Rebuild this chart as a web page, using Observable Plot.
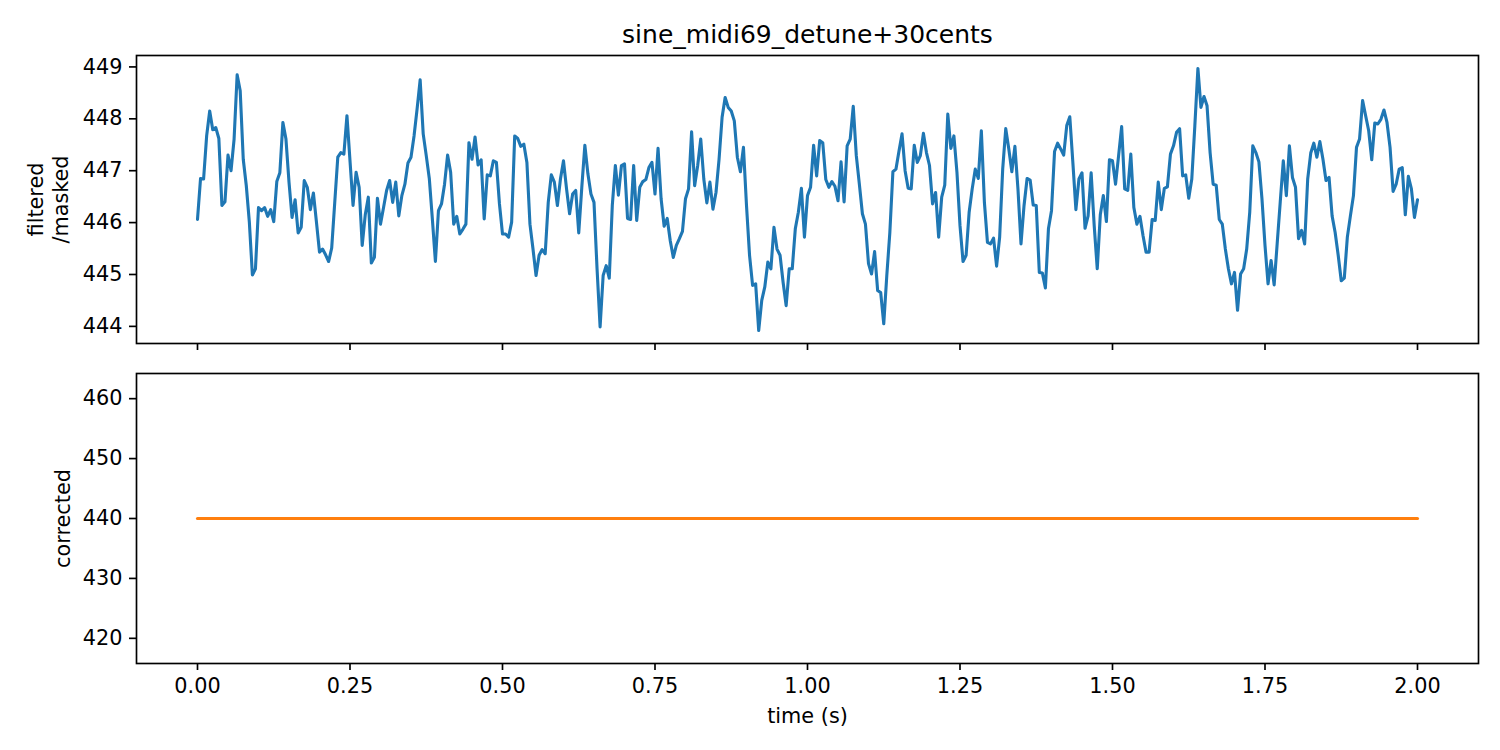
<!DOCTYPE html>
<html>
<head>
<meta charset="utf-8">
<script src="https://cdn.jsdelivr.net/npm/d3@7"></script>
<script src="https://cdn.jsdelivr.net/npm/@observablehq/plot@0.6"></script>
<style>
  body { margin: 0; background: #fff; }
  #chart { position: relative; width: 1500px; height: 750px; font-family: "DejaVu Sans", sans-serif; }
  #chart svg { position: absolute; left: 0; }
</style>
</head>
<body>
<div id="chart"></div>
<script>
const titleText = "sine_midi69_detune+30cents";
const xLabel = "time (s)";
const topYLabel = "filtered\n/masked";
const bottomYLabel = "corrected";
const xTicks = [0, 0.25, 0.5, 0.75, 1, 1.25, 1.5, 1.75, 2];
const topYTicks = [444, 445, 446, 447, 448, 449];
const bottomYTicks = [420, 430, 440, 450, 460];
const sampleStep = 0.005;

const filteredHz = [
  446.06, 446.85, 446.84, 447.67, 448.15, 447.79, 447.83, 447.62, 446.33, 446.40,
  447.30, 447.00, 447.61, 448.85, 448.54, 447.22, 446.71, 446.01, 444.99, 445.11,
  446.29, 446.23, 446.29, 446.12, 446.25, 446.02, 446.79, 446.96, 447.93, 447.61,
  446.78, 446.10, 446.44, 445.80, 445.91, 446.81, 446.68, 446.25, 446.57, 446.01,
  445.43, 445.49, 445.38, 445.25, 445.51, 446.39, 447.26, 447.35, 447.32, 448.06,
  447.19, 446.33, 446.97, 446.68, 445.56, 446.15, 446.49, 445.22, 445.33, 446.47,
  445.97, 446.29, 446.62, 446.81, 446.39, 446.78, 446.13, 446.52, 446.74, 447.15,
  447.26, 447.67, 448.19, 448.75, 447.71, 447.29, 446.85, 446.07, 445.25, 446.23,
  446.36, 446.74, 447.30, 446.97, 445.97, 446.12, 445.78, 445.87, 445.97, 447.54,
  447.22, 447.65, 447.11, 447.21, 446.07, 446.92, 446.90, 447.19, 447.16, 446.36,
  445.78, 445.78, 445.72, 446.01, 447.67, 447.62, 447.47, 447.51, 447.16, 445.97,
  445.49, 444.98, 445.37, 445.48, 445.40, 446.39, 446.92, 446.78, 446.33, 446.84,
  447.19, 446.65, 446.17, 446.55, 446.62, 445.80, 446.68, 447.49, 446.94, 446.55,
  446.39, 445.11, 443.99, 444.98, 445.17, 444.93, 446.33, 447.10, 446.53, 447.10,
  447.13, 446.08, 446.06, 447.10, 446.04, 446.68, 446.79, 446.83, 447.06, 447.16,
  446.55, 447.43, 446.46, 445.93, 446.08, 445.65, 445.33, 445.56, 445.69, 445.83,
  446.46, 446.65, 447.75, 446.71, 447.10, 447.61, 446.84, 446.38, 446.78, 446.26,
  446.58, 447.22, 448.03, 448.41, 448.22, 448.15, 447.96, 447.26, 446.98, 447.45,
  446.33, 445.37, 444.79, 444.82, 443.92, 444.50, 444.76, 445.24, 445.11, 445.91,
  445.49, 445.37, 444.85, 444.40, 445.11, 445.11, 445.88, 446.20, 446.66, 445.72,
  446.52, 446.68, 447.49, 446.90, 447.58, 447.54, 446.83, 446.68, 446.79, 446.70,
  446.42, 447.17, 446.40, 447.48, 447.61, 448.24, 447.29, 446.74, 446.17, 445.97,
  445.21, 445.01, 445.44, 444.69, 444.65, 444.05, 444.98, 445.81, 446.98, 447.03,
  447.38, 447.71, 447.00, 446.66, 446.65, 447.49, 447.16, 447.29, 447.72, 447.35,
  447.10, 446.36, 446.58, 445.72, 446.49, 446.72, 448.09, 447.43, 447.67, 446.97,
  445.94, 445.25, 445.37, 446.20, 446.65, 447.03, 446.85, 447.77, 446.39, 445.62,
  445.59, 445.70, 445.16, 445.72, 447.03, 447.81, 447.42, 446.98, 447.47, 446.65,
  445.59, 446.33, 446.85, 446.82, 446.34, 446.33, 445.04, 445.03, 444.74, 445.88,
  446.23, 447.37, 447.53, 447.42, 447.30, 447.87, 448.04, 447.16, 446.25, 446.84,
  446.96, 445.89, 446.13, 446.96, 445.94, 445.11, 446.15, 446.52, 446.02, 447.21,
  447.19, 446.74, 447.29, 447.85, 446.65, 446.62, 447.32, 446.29, 445.97, 446.12,
  445.75, 445.43, 445.43, 446.06, 446.04, 446.78, 446.25, 446.66, 446.69, 447.32,
  447.48, 447.74, 447.81, 446.90, 446.92, 446.47, 446.84, 447.87, 448.97, 448.22,
  448.43, 448.25, 447.35, 446.74, 446.72, 446.06, 445.97, 445.49, 445.11, 444.82,
  445.04, 444.31, 445.01, 445.11, 445.49, 446.20, 447.48, 447.35, 447.17, 446.46,
  445.56, 444.82, 445.27, 444.80, 445.60, 446.40, 447.19, 446.52, 447.48, 446.87,
  446.68, 445.69, 445.85, 445.59, 446.84, 447.34, 447.53, 447.26, 447.56, 447.22,
  446.81, 446.87, 446.13, 445.81, 445.37, 444.88, 444.93, 445.72, 446.13, 446.52,
  447.45, 447.61, 448.35, 448.06, 447.77, 447.21, 447.92, 447.90, 447.99, 448.17,
  447.93, 447.45, 446.60, 446.74, 447.03, 447.06, 446.15, 446.89, 446.65, 446.10,
  446.44
];
const correctedHz = filteredHz.map(() => 440);
const timeS = filteredHz.map((_, i) => i * sampleStep);

const topRows = timeS.map((t, i) => ({t, v: filteredHz[i]}));
const bottomRows = timeS.map((t, i) => ({t, v: correctedHz[i]}));

const fontPx = 20.8;
const baseStyle = {
  fontFamily: "'DejaVu Sans', sans-serif",
  fontSize: fontPx + "px",
  color: "#000",
  background: "transparent",
  overflow: "visible"
};

const topPlot = Plot.plot({
  width: 1500, height: 360,
  marginTop: 55, marginBottom: 17, marginLeft: 136, marginRight: 22,
  style: baseStyle,
  x: {domain: [-0.1, 2.1]},
  y: {domain: [443.67, 449.22]},
  marks: [
    Plot.line(topRows, {x: "t", y: "v", stroke: "#1f77b4", strokeWidth: 3.1, strokeLinejoin: "round"}),
    Plot.frame({stroke: "#000", strokeWidth: 1.67}),
    Plot.axisX({ticks: xTicks, tickSize: 7, tickFormat: () => "", label: null, stroke: "#000", strokeWidth: 1.67}),
    Plot.axisY({ticks: topYTicks, tickSize: 7, tickPadding: 7, tickFormat: d => String(d), label: null,
                stroke: "#000", strokeWidth: 1.67, fontSize: fontPx}),
    Plot.text([topYLabel], {text: d => d, frameAnchor: "left", textAnchor: "middle", lineAnchor: "middle",
                            rotate: -90, dx: -89, lineHeight: 1.2, fontSize: fontPx, fill: "#000"}),
    Plot.text([titleText], {text: d => d, frameAnchor: "top", textAnchor: "middle", lineAnchor: "bottom", dy: -12.5,
                            fontSize: 25, fill: "#000"})
  ]
});
topPlot.style.top = "0px";

const bottomPlot = Plot.plot({
  width: 1500, height: 390,
  marginTop: 13, marginBottom: 87, marginLeft: 136, marginRight: 22,
  style: baseStyle,
  x: {domain: [-0.1, 2.1]},
  y: {domain: [415.8, 464.2]},
  marks: [
    Plot.line(bottomRows, {x: "t", y: "v", stroke: "#ff7f0e", strokeWidth: 3.1, strokeLinejoin: "round"}),
    Plot.frame({stroke: "#000", strokeWidth: 1.67}),
    Plot.axisX({ticks: xTicks, tickSize: 7, tickPadding: 7.5, tickFormat: d3.format(".2f"), label: null,
                stroke: "#000", strokeWidth: 1.67, fontSize: fontPx}),
    Plot.axisY({ticks: bottomYTicks, tickSize: 7, tickPadding: 7, tickFormat: d => String(d), label: null,
                stroke: "#000", strokeWidth: 1.67, fontSize: fontPx}),
    Plot.text([bottomYLabel], {text: d => d, frameAnchor: "left", textAnchor: "middle", lineAnchor: "middle",
                               rotate: -90, dx: -73, fontSize: fontPx, fill: "#000"}),
    Plot.text([xLabel], {text: d => d, frameAnchor: "bottom", textAnchor: "middle", lineAnchor: "middle", dy: 53,
                         fontSize: fontPx, fill: "#000"})
  ]
});
bottomPlot.style.top = "360px";

const chart = document.getElementById("chart");
chart.appendChild(topPlot);
chart.appendChild(bottomPlot);
</script>
</body>
</html>
